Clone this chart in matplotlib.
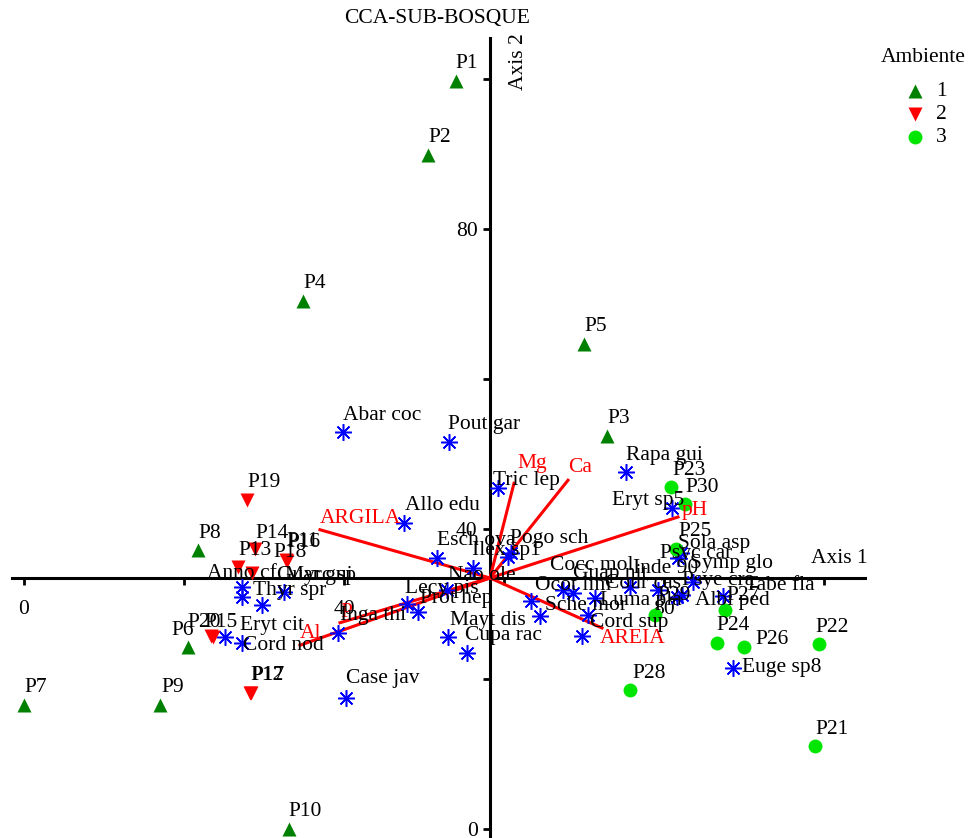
import matplotlib
matplotlib.use("Agg")
import matplotlib.pyplot as plt

plt.rcParams['font.family'] = ['Liberation Serif', 'DejaVu Serif']

# site scores (Axis 1, Axis 2) and environment group
site_names = ['P1', 'P2', 'P3', 'P4', 'P5', 'P6', 'P7', 'P8', 'P9', 'P10',
              'P11', 'P12', 'P13', 'P14', 'P15', 'P16', 'P17', 'P18', 'P19', 'P20',
              'P21', 'P22', 'P23', 'P24', 'P25', 'P26', 'P27', 'P28', 'P29', 'P30']
site_x = [54.0, 50.5, 72.9, 34.9, 70.0, 20.5, 0.0, 21.75, 17.0, 33.1,
          32.75, 28.25, 26.75, 28.9, 23.6, 32.9, 28.4, 28.5, 27.9, 23.4,
          98.9, 99.4, 80.9, 86.6, 81.5, 90.0, 87.6, 75.75, 78.9, 82.6]
site_y = [99.7, 89.9, 52.4, 70.4, 64.7, 24.3, 16.5, 37.2, 16.5, 0.0,
          35.9, 18.1, 34.9, 37.3, 25.6, 35.7, 18.1, 34.1, 43.9, 25.7,
          11.1, 24.7, 45.6, 24.8, 37.3, 24.3, 29.2, 18.5, 28.5, 43.3]
site_group = [1] * 10 + [2] * 10 + [3] * 10

# species scores
sp_names = ['Abar coc', 'Pout gar', 'Rapa gui', 'Tric lep', 'Allo edu', 'Eryt sp5',
            'Esch ova', 'Ilex sp1', 'Pogo sch', 'Nao ole', 'Lecy pis', 'Prot hep', '',
            'Inga thi', 'Mayt dis', 'Cupa rac', 'Case jav', 'Cord nod', 'Eryt cit',
            'Anno cf', 'Thyr spr', 'Myrc sp', 'Guar gui', 'Cocc mol', 'Guap nit',
            'Ocot lim', 'Sche mor', 'Cord sup', '', 'Luma pla', 'Inde 90', 'Cour cas',
            'Psyc car', 'Sola asp', 'Symp glo', 'Psye cra', 'Albi ped', 'Tabe fla',
            'Euge sp8']
sp_x = [39.9, 53.1, 75.25, 59.25, 47.5, 81.0,
        51.6, 60.5, 60.9, 56.1, 47.9, 49.25, 52.9,
        39.25, 53.0, 55.4, 40.25, 27.25, 25.1,
        27.25, 27.25, 29.75, 32.5, 67.4, 68.6,
        63.4, 64.5, 70.5, 69.75, 71.4, 75.75, 79.25,
        81.75, 82.1, 83.6, 82.25, 81.6, 87.4,
        88.6]
sp_y = [52.9, 51.6, 47.6, 45.5, 40.8, 42.8,
        36.1, 36.3, 36.8, 34.8, 30.0, 28.9, 31.9,
        26.1, 25.6, 23.5, 17.5, 24.8, 25.6,
        32.3, 30.9, 29.9, 31.6, 31.9, 31.5,
        30.4, 28.4, 28.5, 25.7, 30.8, 32.3, 31.9,
        36.1, 36.8, 32.9, 31.2, 30.9, 31.1,
        21.5]

# environmental vectors (end points), drawn from the axis origin
env_names = ['Mg', 'Ca', 'pH', 'AREIA', 'Al', 'P', 'ARGILA']
env_x = [61.25, 68.0, 81.75, 72.25, 34.5, 39.5, 37.0]
env_y = [46.1, 46.5, 41.6, 26.8, 24.5, 27.5, 39.9]
origin = (58.25, 33.47)

legend_title = 'Ambiente'
legend_labels = ['1', '2', '3']

# label offsets in pixels (left, baseline above marker)
site_off = [(-1, 13), (0, 13), (0, 13), (0, 13), (0, 13), (-17, 12), (0, 13), (0, 12), (1, 13), (0, 13),
            (0, 14), (0, 13), (0, 12), (0, 11), (-8, 10), (0, 14), (0, 13), (21, 16), (0, 13), (-24, 9),
            (0, 12), (-4, 12), (1, 12), (0, 13), (2, 13), (11, 3), (2, 10), (2, 12), (2, 15), (1, 12)]
sp_off = [(0, 12), (-1, 13), (0, 12), (-5, 3), (1, 13), (-60, 3),
          (0, 13), (-36, 2), (-1, 10), (-25, -12), (-2, 11), (2, 9), (0, 0),
          (2, 13), (2, 12), (-2, 13), (0, 15), (1, -7), (15, 7),
          (-35, 9), (11, 2), (23, 25), (-7, 12), (-13, 20), (0, 15),
          (4, 11), (5, 6), (2, -12), (0, 0), (5, -7), (3, 14), (-53, 2),
          (-18, 0), (-3, 5), (-3, 14), (0, 10), (18, -8), (22, 6),
          (9, -4)]
env_off = [(3, 15), (0, 8), (4, 2), (-2, -15), (0, 7), (0, 6), (0, 7)]

px = 0.72
fs = 15.5

fig = plt.figure(figsize=(9.68, 8.38), dpi=100)
ax = fig.add_axes([0, 0, 1, 1])
ax.set_xlim(-3, 118)
ax.set_ylim(-1.2, 110.53)
ax.patch.set_alpha(0)

for s in ['top', 'right']:
    ax.spines[s].set_visible(False)
ax.spines['left'].set_position(('data', origin[0]))
ax.spines['bottom'].set_position(('data', origin[1]))
ax.spines['left'].set_bounds(-1.2, 105.5)
ax.spines['bottom'].set_bounds(-1.5, 105.1)
for s in ['left', 'bottom']:
    ax.spines[s].set_linewidth(2.2)
ax.set_xticks([0, 20, 40, 60, 80, 100])
ax.set_xticklabels(['0', '', '40', '', '80', ''])
ax.set_yticks([0, 20, 40, 60, 80, 100])
ax.set_yticklabels(['0', '', '40', '', '80', ''])
ax.tick_params(axis='both', direction='out', length=5, width=2, labelsize=fs)
ax.tick_params(axis='x', pad=11)
ax.tick_params(axis='y', pad=4)

# vectors
for name, ex, ey, off in zip(env_names, env_x, env_y, env_off):
    ax.plot([origin[0], ex], [origin[1], ey], color='#ff0000', lw=2.2, zorder=3)
    ax.annotate(name, (ex, ey), xytext=(off[0] * px, off[1] * px), textcoords='offset points',
                ha='left', va='baseline', color='#ff0000', fontsize=fs, zorder=5)

# species
ax.plot(sp_x, sp_y, linestyle='none', marker=(8, 2, 0), ms=12, mew=1.1,
        color='#0000ff', zorder=4)
for name, sx, sy, off in zip(sp_names, sp_x, sp_y, sp_off):
    if name:
        ax.annotate(name, (sx, sy), xytext=(off[0] * px, off[1] * px), textcoords='offset points',
                    ha='left', va='baseline', color='black', fontsize=fs, zorder=5)

# sites
styles = {1: ('^', '#008000'), 2: ('v', '#ff0000'), 3: ('o', '#00e600')}
for g in [1, 2, 3]:
    gx = [x for x, k in zip(site_x, site_group) if k == g]
    gy = [y for y, k in zip(site_y, site_group) if k == g]
    ax.plot(gx, gy, linestyle='none', marker=styles[g][0], ms=10, mec='none',
            color=styles[g][1], zorder=4)
for name, sx, sy, off in zip(site_names, site_x, site_y, site_off):
    ax.annotate(name, (sx, sy), xytext=(off[0] * px, off[1] * px), textcoords='offset points',
                ha='left', va='baseline', color='black', fontsize=fs, zorder=5)

# titles and axis names
fig.text(0.452, 0.978, 'CCA-SUB-BOSQUE', ha='center', va='center', fontsize=fs)
fig.text(0.536, 0.926, 'Axis 2', ha='center', va='center', rotation=90, fontsize=fs)
fig.text(0.867, 0.334, 'Axis 1', ha='center', va='center', fontsize=fs)

# legend (figure fraction coordinates)
fig.text(0.954, 0.931, legend_title, ha='center', va='center', fontsize=fs)
for i, g in enumerate([1, 2, 3]):
    ly = 0.891 - i * 0.0275
    ax.plot([0.945], [ly], transform=ax.transAxes, linestyle='none',
            marker=styles[g][0], ms=10, mec='none', color=styles[g][1], clip_on=False)
    fig.text(0.967, ly, legend_labels[i], ha='left', va='center', fontsize=fs)

fig.savefig('out.png', dpi=100)
